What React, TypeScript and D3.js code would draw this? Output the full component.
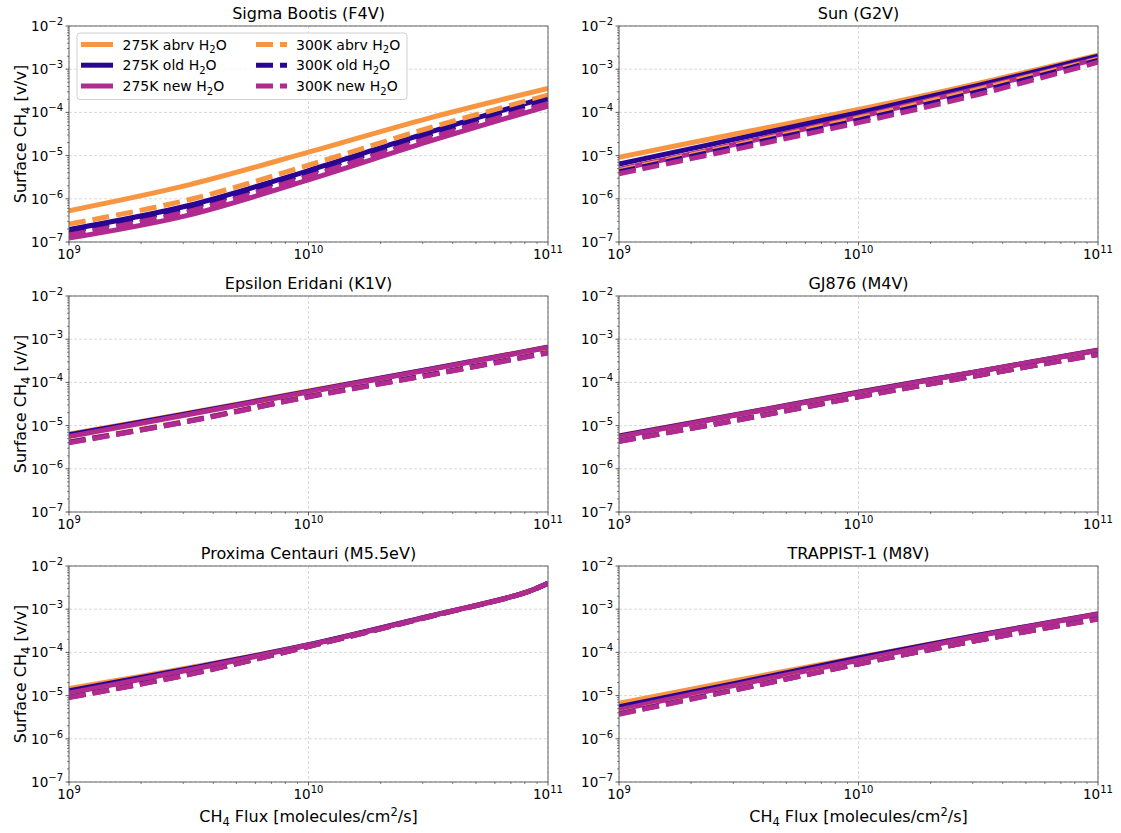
import React from "react";
import * as d3 from "d3";

// ---- data ----
const SERIES_LABELS = ["275K abrv", "275K old", "275K new", "300K abrv", "300K old", "300K new"];
const SERIES_COLORS = ["#F89540", "#2A0593", "#B12A90", "#F89540", "#2A0593", "#B12A90"];
const SERIES_DASHED = [false, false, false, true, true, true];

const FLUX = [1e9, 3.16e9, 1e10, 3.16e10, 1e11];
const FLUX_PROXIMA = [1e9, 3.16e9, 1e10, 3.16e10, 7.9e10, 1e11];

const SIGMA_BOOTIS = [
  [5.3e-7, 2.1e-6, 1.2e-5, 7.3e-5, 3.6e-4],
  [1.95e-7, 7.0e-7, 4.5e-6, 3.4e-5, 2.3e-4],
  [1.23e-7, 4.2e-7, 2.75e-6, 2.1e-5, 1.4e-4],
  [2.6e-7, 9.5e-7, 6.0e-6, 4.3e-5, 2.5e-4],
  [1.75e-7, 6.2e-7, 4.0e-6, 3.0e-5, 2.0e-4],
  [1.45e-7, 5.1e-7, 3.3e-6, 2.5e-5, 1.6e-4],
];
const SUN = [
  [9.1e-6, 3.3e-5, 1.17e-4, 4.7e-4, 2.1e-3],
  [6.4e-6, 2.5e-5, 9.8e-5, 4.2e-4, 2.0e-3],
  [4.8e-6, 1.9e-5, 7.8e-5, 3.6e-4, 1.75e-3],
  [4.5e-6, 1.8e-5, 7.4e-5, 3.4e-4, 1.7e-3],
  [4.2e-6, 1.65e-5, 6.6e-5, 3.0e-4, 1.6e-3],
  [3.8e-6, 1.45e-5, 5.8e-5, 2.6e-4, 1.45e-3],
];
const EPSILON_ERIDANI = [
  [6.4e-6, 1.95e-5, 6.3e-5, 2.0e-4, 6.6e-4],
  [6.1e-6, 1.9e-5, 6.2e-5, 2.0e-4, 6.5e-4],
  [5.6e-6, 1.8e-5, 6.0e-5, 1.95e-4, 6.4e-4],
  [4.2e-6, 1.3e-5, 4.8e-5, 1.5e-4, 5.0e-4],
  [4.1e-6, 1.27e-5, 4.7e-5, 1.48e-4, 4.9e-4],
  [4.0e-6, 1.25e-5, 4.6e-5, 1.45e-4, 4.8e-4],
];
const GJ876 = [
  [5.8e-6, 1.85e-5, 6.0e-5, 1.8e-4, 5.6e-4],
  [5.7e-6, 1.83e-5, 5.9e-5, 1.8e-4, 5.55e-4],
  [5.5e-6, 1.8e-5, 5.8e-5, 1.78e-4, 5.5e-4],
  [4.4e-6, 1.38e-5, 4.7e-5, 1.46e-4, 4.5e-4],
  [4.35e-6, 1.36e-5, 4.65e-5, 1.45e-4, 4.45e-4],
  [4.3e-6, 1.35e-5, 4.6e-5, 1.45e-4, 4.4e-4],
];
const PROXIMA_CENTAURI = [
  [1.45e-5, 4.4e-5, 1.5e-4, 6.8e-4, 2.35e-3, 4.0e-3],
  [1.3e-5, 4.2e-5, 1.5e-4, 6.8e-4, 2.35e-3, 4.0e-3],
  [1.15e-5, 3.9e-5, 1.48e-4, 6.7e-4, 2.35e-3, 4.0e-3],
  [9.2e-6, 3.1e-5, 1.38e-4, 6.6e-4, 2.35e-3, 4.0e-3],
  [9.1e-6, 3.1e-5, 1.37e-4, 6.6e-4, 2.35e-3, 4.0e-3],
  [9.0e-6, 3.05e-5, 1.36e-4, 6.6e-4, 2.35e-3, 4.0e-3],
];
const TRAPPIST_1 = [
  [6.6e-6, 2.3e-5, 7.6e-5, 2.5e-4, 7.9e-4],
  [5.5e-6, 2.0e-5, 7.4e-5, 2.5e-4, 7.8e-4],
  [4.7e-6, 1.8e-5, 6.6e-5, 2.4e-4, 7.7e-4],
  [3.9e-6, 1.45e-5, 5.5e-5, 1.9e-4, 6.0e-4],
  [3.8e-6, 1.42e-5, 5.4e-5, 1.9e-4, 6.0e-4],
  [3.7e-6, 1.4e-5, 5.4e-5, 1.9e-4, 5.9e-4],
];

const PANEL_TITLES = [
  "Sigma Bootis (F4V)",
  "Sun (G2V)",
  "Epsilon Eridani (K1V)",
  "GJ876 (M4V)",
  "Proxima Centauri (M5.5eV)",
  "TRAPPIST-1 (M8V)",
];
const PANEL_DATA = [SIGMA_BOOTIS, SUN, EPSILON_ERIDANI, GJ876, PROXIMA_CENTAURI, TRAPPIST_1];
const PANEL_FLUX = [FLUX, FLUX, FLUX, FLUX, FLUX_PROXIMA, FLUX];

const X_DOMAIN = [1e9, 1e11];
const Y_DOMAIN = [1e-7, 1e-2];
const X_MAJOR = [9, 10, 11];
const Y_MAJOR = [-7, -6, -5, -4, -3, -2];

// ---- layout ----
const W = 1121;
const H = 833;
const COLS = [
  [69, 548],
  [619, 1098],
];
const ROWS = [
  [26, 242],
  [296, 512],
  [566, 782],
];
const FONT = "'DejaVu Sans', sans-serif";
const LW = 5;
const DASH = "17,7";

function sup(exp: number) {
  return exp < 0 ? "\u2212" + Math.abs(exp) : String(exp);
}

function Panel({ idx }: { idx: number }) {
  const col = idx % 2;
  const row = Math.floor(idx / 2);
  const [x0, x1] = COLS[col];
  const [y0, y1] = ROWS[row];
  const x = d3.scaleLog().domain(X_DOMAIN).range([x0, x1]);
  const y = d3.scaleLog().domain(Y_DOMAIN).range([y1, y0]);
  const flux = PANEL_FLUX[idx];
  const data = PANEL_DATA[idx];
  const line = d3
    .line<number>()
    .x((_, i) => x(flux[i]))
    .y((v) => y(v))
    .curve(d3.curveCatmullRom.alpha(0.5));

  const xMinor: number[] = [];
  for (let e = 9; e < 11; e++) for (let k = 2; k <= 9; k++) xMinor.push(k * Math.pow(10, e));
  const yMinor: number[] = [];
  for (let e = -7; e < -2; e++) for (let k = 2; k <= 9; k++) yMinor.push(k * Math.pow(10, e));

  const clipId = `clip${idx}`;
  return (
    <g>
      <defs>
        <clipPath id={clipId}>
          <rect x={x0} y={y0} width={x1 - x0} height={y1 - y0} />
        </clipPath>
      </defs>
      <rect x={x0} y={y0} width={x1 - x0} height={y1 - y0} fill="#fff" />
      {/* grid */}
      {X_MAJOR.map((e) => (
        <line
          key={"gx" + e}
          x1={x(Math.pow(10, e))}
          x2={x(Math.pow(10, e))}
          y1={y0}
          y2={y1}
          stroke="#cfcfcf"
          strokeWidth={0.8}
          strokeDasharray="3,2"
        />
      ))}
      {Y_MAJOR.map((e) => (
        <line
          key={"gy" + e}
          x1={x0}
          x2={x1}
          y1={y(Math.pow(10, e))}
          y2={y(Math.pow(10, e))}
          stroke="#cfcfcf"
          strokeWidth={0.8}
          strokeDasharray="3,2"
        />
      ))}
      {/* lines */}
      <g clipPath={`url(#${clipId})`}>
        {data.map((s, i) => (
          <path
            key={i}
            d={line(s) || ""}
            fill="none"
            stroke={SERIES_COLORS[i]}
            strokeWidth={LW}
            strokeDasharray={SERIES_DASHED[i] ? DASH : undefined}
          />
        ))}
      </g>
      {/* spines */}
      <rect x={x0} y={y0} width={x1 - x0} height={y1 - y0} fill="none" stroke="#555" strokeWidth={0.9} />
      {/* x ticks */}
      {X_MAJOR.map((e) => (
        <g key={"xt" + e}>
          <line x1={x(Math.pow(10, e))} x2={x(Math.pow(10, e))} y1={y1} y2={y1 + 3.5} stroke="#333" strokeWidth={0.8} />
          <text x={x(Math.pow(10, e))} y={y1 + 17} fontSize={13.5} textAnchor="middle" fontFamily={FONT} fill="#000">
            10
            <tspan dy={-6} fontSize={10}>
              {sup(e)}
            </tspan>
          </text>
        </g>
      ))}
      {xMinor.map((v, i) => (
        <line key={"xm" + i} x1={x(v)} x2={x(v)} y1={y1} y2={y1 + 2} stroke="#333" strokeWidth={0.6} />
      ))}
      {/* y ticks */}
      {Y_MAJOR.map((e) => (
        <g key={"yt" + e}>
          <line x1={x0 - 3.5} x2={x0} y1={y(Math.pow(10, e))} y2={y(Math.pow(10, e))} stroke="#333" strokeWidth={0.8} />
          <text x={x0 - 6} y={y(Math.pow(10, e)) + 5} fontSize={13.5} textAnchor="end" fontFamily={FONT} fill="#000">
            10
            <tspan dy={-6} fontSize={10}>
              {sup(e)}
            </tspan>
          </text>
        </g>
      ))}
      {yMinor.map((v, i) => (
        <line key={"ym" + i} x1={x0 - 2} x2={x0} y1={y(v)} y2={y(v)} stroke="#333" strokeWidth={0.6} />
      ))}
      {/* title */}
      <text x={(x0 + x1) / 2} y={y0 - 7} fontSize={16} textAnchor="middle" fontFamily={FONT} fill="#000">
        {PANEL_TITLES[idx]}
      </text>
      {/* y label */}
      {col === 0 && (
        <text
          transform={`translate(26,${(y0 + y1) / 2}) rotate(-90)`}
          fontSize={16}
          textAnchor="middle"
          fontFamily={FONT}
          fill="#000"
        >
          Surface CH
          <tspan dy={4} fontSize={11.5}>
            4
          </tspan>
          <tspan dy={-4}> [v/v]</tspan>
        </text>
      )}
      {/* x label */}
      {row === 2 && (
        <text x={(x0 + x1) / 2} y={822} fontSize={16} textAnchor="middle" fontFamily={FONT} fill="#000">
          CH
          <tspan dy={4} fontSize={11.5}>
            4
          </tspan>
          <tspan dy={-4}> Flux [molecules/cm</tspan>
          <tspan dy={-6} fontSize={11.5}>
            2
          </tspan>
          <tspan dy={6}>/s]</tspan>
        </text>
      )}
    </g>
  );
}

function Legend() {
  const bx = 77;
  const by = 33;
  const rowsY = [44.5, 65.2, 86];
  const colHandle = [
    [81, 113],
    [256, 287],
  ];
  const colText = [122.5, 296];
  return (
    <g>
      <rect x={bx} y={by} width={330} height={66.5} rx={3} fill="#fff" fillOpacity={0.8} stroke="#d0d0d0" strokeWidth={1} />
      {SERIES_LABELS.map((lab, i) => {
        const c = Math.floor(i / 3);
        const r = i % 3;
        const [hx0, hx1] = colHandle[c];
        return (
          <g key={i}>
            <line
              x1={hx0}
              x2={hx1}
              y1={rowsY[r]}
              y2={rowsY[r]}
              stroke={SERIES_COLORS[i]}
              strokeWidth={LW}
              strokeDasharray={SERIES_DASHED[i] ? DASH : undefined}
            />
            <text x={colText[c]} y={rowsY[r] + 5} fontSize={14} fontFamily={FONT} fill="#000">
              {lab} H
              <tspan dy={3.5} fontSize={10}>
                2
              </tspan>
              <tspan dy={-3.5}>O</tspan>
            </text>
          </g>
        );
      })}
    </g>
  );
}

export default function App() {
  return (
    <svg
      width={W}
      height={H}
      viewBox={`0 0 ${W} ${H}`}
      style={{ position: "absolute", left: 0, top: 0, background: "#fff" }}
    >
      <rect x={0} y={0} width={W} height={H} fill="#fff" />
      {PANEL_TITLES.map((_, i) => (
        <Panel key={i} idx={i} />
      ))}
      <Legend />
    </svg>
  );
}
